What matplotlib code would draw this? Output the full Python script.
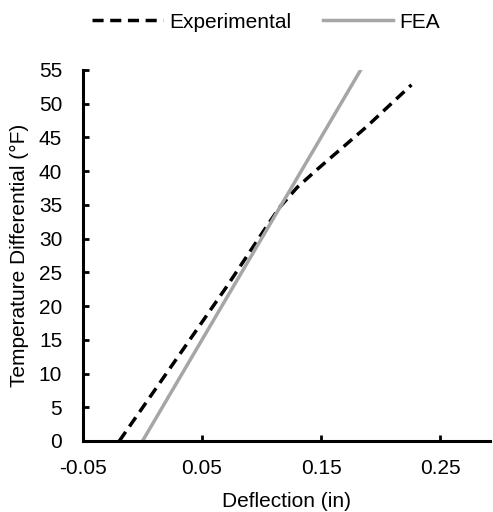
import numpy as np
import matplotlib.pyplot as plt

plt.rcParams['font.family'] = ['Liberation Sans', 'DejaVu Sans']

exp_x = [-0.0195, 0.02, 0.0708, 0.105, 0.1155, 0.13, 0.1464, 0.1884, 0.226]
exp_y = [0.0, 10.0, 22.9, 32.0, 34.7, 37.6, 40.2, 46.6, 52.8]
fea_x = [0.0, 0.1833]
fea_y = [0.0, 55.0]

fig = plt.figure(figsize=(4.93, 5.12), dpi=100)
ax = fig.add_axes([0.1684, 0.1387, 0.8255, 0.7246])

ax.plot(exp_x, exp_y, color='black', lw=2.5, ls=(0, (3.2, 1.9)), label='Experimental')
ax.plot(fea_x, fea_y, color='#a6a6a6', lw=2.5, label='FEA')

ax.set_xlim(-0.05, 0.292)
ax.set_ylim(0, 55)
ax.set_xticks([-0.05, 0.05, 0.15, 0.25])
ax.set_xticklabels(['-0.05', '0.05', '0.15', '0.25'])
ax.set_yticks(np.arange(0, 56, 5))
ax.tick_params(direction='in', length=4, width=2, labelsize=15)
ax.tick_params(axis='x', pad=13)
ax.tick_params(axis='y', pad=15)

for s in ['top', 'right']:
    ax.spines[s].set_visible(False)
for s in ['left', 'bottom']:
    ax.spines[s].set_linewidth(2.2)

ax.set_xlabel('Deflection (in)', fontsize=15, labelpad=10)
ax.set_ylabel('Temperature Differential (°F)', fontsize=15, labelpad=7)

fig.legend(loc='upper center', bbox_to_anchor=(0.54, 1.012), ncol=2, frameon=False,
           fontsize=15, handlelength=3.4, columnspacing=1.5, handletextpad=0.3)

plt.savefig('out.png', dpi=100)
